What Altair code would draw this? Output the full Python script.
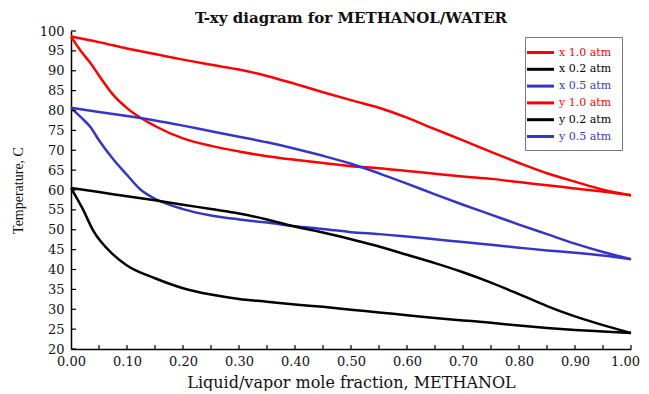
import altair as alt
import pandas as pd

# ---- data ----
series_names = ["x 1.0 atm", "x 0.2 atm", "x 0.5 atm", "y  1.0 atm", "y  0.2 atm", "y  0.5 atm"]
series_colors = ["#ff0000", "#000000", "#3535c8", "#ff0000", "#000000", "#3535c8"]

# liquid (bubble) curves
x10_x = [0, 0.02, 0.035, 0.05, 0.075, 0.1, 0.15, 0.2, 0.25, 0.3, 0.35, 0.4, 0.45, 0.5, 0.55, 0.6, 0.65, 0.7, 0.75, 0.8, 0.85, 0.9, 0.95, 1.0]
x10_T = [98.6, 94.5, 91.9, 88.8, 84.0, 80.6, 76.1, 73.0, 71.1, 69.7, 68.5, 67.6, 66.8, 66.0, 65.5, 64.8, 64.1, 63.4, 62.8, 62.0, 61.2, 60.4, 59.6, 58.7]

x02_x = [0, 0.02, 0.04, 0.075, 0.1, 0.15, 0.2, 0.25, 0.3, 0.35, 0.4, 0.45, 0.5, 0.55, 0.6, 0.65, 0.7, 0.75, 0.8, 0.85, 0.9, 0.95, 1.0]
x02_T = [60.5, 55.5, 49.7, 43.8, 41.0, 37.8, 35.3, 33.7, 32.6, 31.9, 31.2, 30.6, 29.9, 29.2, 28.5, 27.8, 27.2, 26.6, 25.9, 25.3, 24.8, 24.4, 24.0]

x05_x = [0, 0.02, 0.035, 0.05, 0.075, 0.1, 0.125, 0.15, 0.2, 0.25, 0.3, 0.35, 0.4, 0.45, 0.5, 0.55, 0.6, 0.65, 0.7, 0.75, 0.8, 0.85, 0.9, 0.95, 1.0]
x05_T = [80.7, 78.0, 75.8, 72.5, 67.8, 63.8, 60.0, 57.8, 55.2, 53.6, 52.6, 51.8, 50.9, 50.2, 49.4, 48.9, 48.3, 47.6, 46.9, 46.2, 45.5, 44.8, 44.2, 43.5, 42.6]

# vapour (dew) curves
y10_x = [0, 0.05, 0.1, 0.15, 0.2, 0.25, 0.3, 0.35, 0.4, 0.45, 0.5, 0.55, 0.6, 0.65, 0.7, 0.75, 0.8, 0.85, 0.9, 0.95, 1.0]
y10_T = [98.6, 97.2, 95.6, 94.2, 92.8, 91.5, 90.3, 88.7, 86.7, 84.6, 82.6, 80.7, 78.2, 75.3, 72.5, 69.6, 66.8, 64.2, 62.1, 60.1, 58.7]

y02_x = [0, 0.05, 0.1, 0.15, 0.2, 0.25, 0.3, 0.35, 0.4, 0.45, 0.5, 0.55, 0.6, 0.65, 0.7, 0.75, 0.8, 0.85, 0.9, 0.95, 1.0]
y02_T = [60.5, 59.5, 58.4, 57.4, 56.3, 55.2, 54.1, 52.6, 50.8, 49.3, 47.6, 45.8, 43.7, 41.6, 39.3, 36.7, 33.8, 30.8, 28.2, 26.0, 24.0]

y05_x = [0, 0.05, 0.1, 0.15, 0.2, 0.25, 0.3, 0.35, 0.4, 0.45, 0.5, 0.55, 0.6, 0.65, 0.7, 0.75, 0.8, 0.85, 0.9, 0.95, 1.0]
y05_T = [80.7, 79.6, 78.6, 77.5, 76.2, 74.8, 73.4, 72.0, 70.4, 68.6, 66.6, 64.2, 61.6, 58.9, 56.3, 53.8, 51.3, 48.9, 46.5, 44.4, 42.6]

x_tick_labels = [0, 0.1, 0.2, 0.3, 0.4, 0.5, 0.6, 0.7, 0.8, 0.9, 1.0]
x_minor_ticks = [0.05, 0.1, 0.15, 0.2, 0.25, 0.3, 0.35, 0.4, 0.45, 0.5, 0.55, 0.6, 0.65, 0.7, 0.75, 0.8, 0.85, 0.9, 0.95, 1.0]
y_tick_labels = [20, 25, 30, 35, 40, 45, 50, 55, 60, 65, 70, 75, 80, 85, 90, 95, 100]

# ---- build table ----
rows = []
for name, xs, ts in [
    (series_names[0], x10_x, x10_T),
    (series_names[1], x02_x, x02_T),
    (series_names[2], x05_x, x05_T),
    (series_names[3], y10_x, y10_T),
    (series_names[4], y02_x, y02_T),
    (series_names[5], y05_x, y05_T),
]:
    for i, (a, b) in enumerate(zip(xs, ts)):
        rows.append({"frac": a, "T": b, "series": name, "idx": i})
df = pd.DataFrame(rows)

W, H = 560, 318
serif = "DejaVu Serif"

xscale = alt.Scale(domain=[0, 1], nice=False, zero=False)
yscale = alt.Scale(domain=[20, 100], nice=False, zero=False)

x_axis = alt.Axis(values=x_tick_labels, format=".2f", title="Liquid/vapor mole fraction, METHANOL",
                  grid=False, ticks=False, tickSize=0, labelPadding=6, titlePadding=6,
                  labelOverlap=False, labelFlush=False,
                  labelOffset={"condition": {"test": "datum.value >= 1", "value": -6}, "value": 0},
                  domainColor="#000", domainWidth=1.5,
                  labelFont=serif, labelFontSize=13, labelColor="#111",
                  titleFont=serif, titleFontSize=16, titleFontWeight="normal", titleColor="#111")
y_axis = alt.Axis(values=y_tick_labels, format="d", title="Temperature, C",
                  grid=False, ticks=False, tickSize=0, labelPadding=7, titlePadding=14,
                  labelOverlap=False, labelFlush=False,
                  domainColor="#000", domainWidth=1.5,
                  labelFont=serif, labelFontSize=13, labelColor="#111",
                  titleFont="Liberation Serif", titleFontSize=14, titleFontWeight="normal",
                  titleColor="#111")

label_color_expr = ("indexof(datum.label,'1.0')>=0 ? '#ff0000' : "
                    "(indexof(datum.label,'0.5')>=0 ? '#3535c8' : '#000000')")

lines = alt.Chart(df).mark_line(strokeWidth=2.5, interpolate="monotone").encode(
    x=alt.X("frac:Q", scale=xscale, axis=x_axis),
    y=alt.Y("T:Q", scale=yscale, axis=y_axis),
    color=alt.Color("series:N", scale=alt.Scale(domain=series_names, range=series_colors),
                    sort=series_names,
                    legend=alt.Legend(title=None, orient="none", legendX=454, legendY=6,
                                      symbolType="M-2,0H2", symbolSize=182, symbolStrokeWidth=3,
                                      labelFont=serif, labelFontSize=11, labelOffset=10,
                                      labelColor={"expr": label_color_expr},
                                      padding=7, rowPadding=1.8,
                                      strokeColor="#777", fillColor="#ffffff")),
    order="idx:Q",
)

xt = alt.Chart(pd.DataFrame({"v": x_minor_ticks})).mark_rule(color="#000", strokeWidth=1.2).encode(
    x=alt.X("v:Q", scale=xscale, axis=x_axis), y=alt.value(H), y2=alt.value(H - 4))
yt = alt.Chart(pd.DataFrame({"v": y_tick_labels})).mark_rule(color="#000", strokeWidth=1.2).encode(
    y=alt.Y("v:Q", scale=yscale, axis=y_axis), x=alt.value(0), x2=alt.value(5))

chart = alt.layer(lines, xt, yt).properties(
    width=W, height=H,
    title=alt.Title("T-xy diagram for METHANOL/WATER", font=serif, fontSize=15, fontWeight="bold",
                    color="#111", anchor="middle", offset=-1),
    autosize=alt.AutoSizeParams(type="none"),
    padding={"left": 63, "top": 23, "right": 10, "bottom": 42},
).configure_view(stroke=None)

chart.save("out.html", embed_options={"renderer": "svg", "actions": False})
